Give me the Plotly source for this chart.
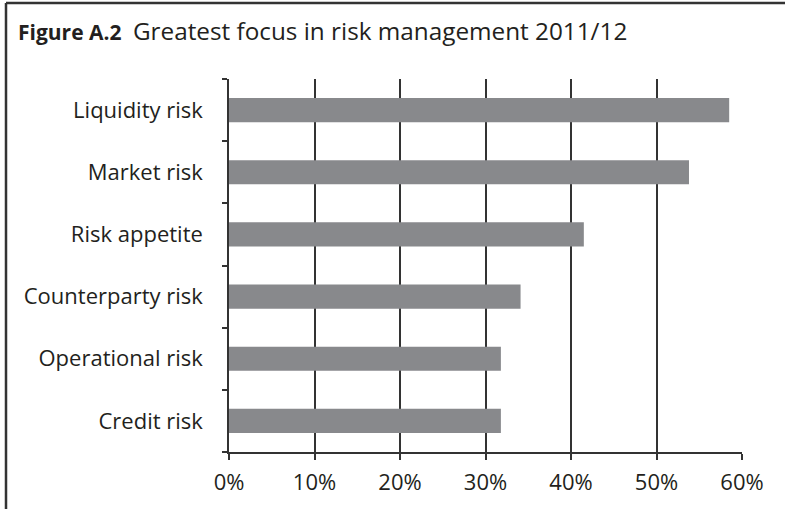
import plotly.graph_objects as go

categories = ["Credit risk", "Operational risk", "Counterparty risk",
              "Risk appetite", "Market risk", "Liquidity risk"]
values = [31.8, 31.8, 34.1, 41.5, 53.8, 58.5]
x_ticks = [0, 10, 20, 30, 40, 50, 60]
x_tick_labels = ["0%", "10%", "20%", "30%", "40%", "50%", "60%"]

TXT = "#231f20"
FONT = "Open Sans"

fig = go.Figure(go.Bar(
    x=values, y=categories, orientation="h",
    marker=dict(color="#88898c", line=dict(width=0)),
    hoverinfo="x+y",
))

L, R, T, B = 229, 43, 79, 57
W, H = 785, 509
pw, ph = W - L - R, H - T - B

fig.update_layout(
    width=W, height=H,
    margin=dict(l=L, r=R, t=T, b=B, pad=0, autoexpand=False),
    paper_bgcolor="white", plot_bgcolor="white",
    bargap=0.61,
    showlegend=False,
    font=dict(family=FONT, color=TXT, size=22),
    xaxis=dict(
        range=[0, 60], tickvals=x_ticks, ticktext=x_tick_labels,
        showgrid=True, gridcolor="#333333", gridwidth=1.5,
        showline=True, linecolor="#333333", linewidth=1.5,
        ticks="outside", ticklen=6, tickcolor="#333333", tickwidth=1.5,
        zeroline=False, ticklabelstandoff=4, automargin=False,
        tickfont=dict(family=FONT, size=22, color=TXT),
        fixedrange=True,
    ),
    yaxis=dict(
        type="category", categoryorder="array", categoryarray=categories,
        showgrid=False, showline=True, linecolor="#333333", linewidth=1.5,
        ticks="outside", ticklen=5, tickcolor="#333333", tickwidth=1.5,
        tickson="boundaries", ticklabelstandoff=20, automargin=False,
        tickfont=dict(family=FONT, size=22, color=TXT),
        fixedrange=True,
    ),
)

def px_x(p):
    return (p - L) / pw

def px_y(p):
    return (H - B - p) / ph

# outer frame: top and left lines
fig.add_shape(type="line", xref="paper", yref="paper",
              x0=px_x(6), x1=px_x(W + 5), y0=px_y(3), y1=px_y(3),
              line=dict(color="#333333", width=2.5))
fig.add_shape(type="line", xref="paper", yref="paper",
              x0=px_x(6), x1=px_x(6), y0=px_y(3), y1=px_y(H + 5),
              line=dict(color="#333333", width=2.5))

fig.add_annotation(
    xref="paper", yref="paper", x=px_x(16), y=px_y(31),
    xanchor="left", yanchor="middle", showarrow=False,
    text=("<b><span style='font-size:21px'>Figure A.2</span></b>&nbsp;&nbsp;"
          "<span style='font-size:24.3px'>Greatest focus in risk management 2011/12</span>"),
    font=dict(family=FONT, size=22, color=TXT),
)

fig.write_html("out.html")
